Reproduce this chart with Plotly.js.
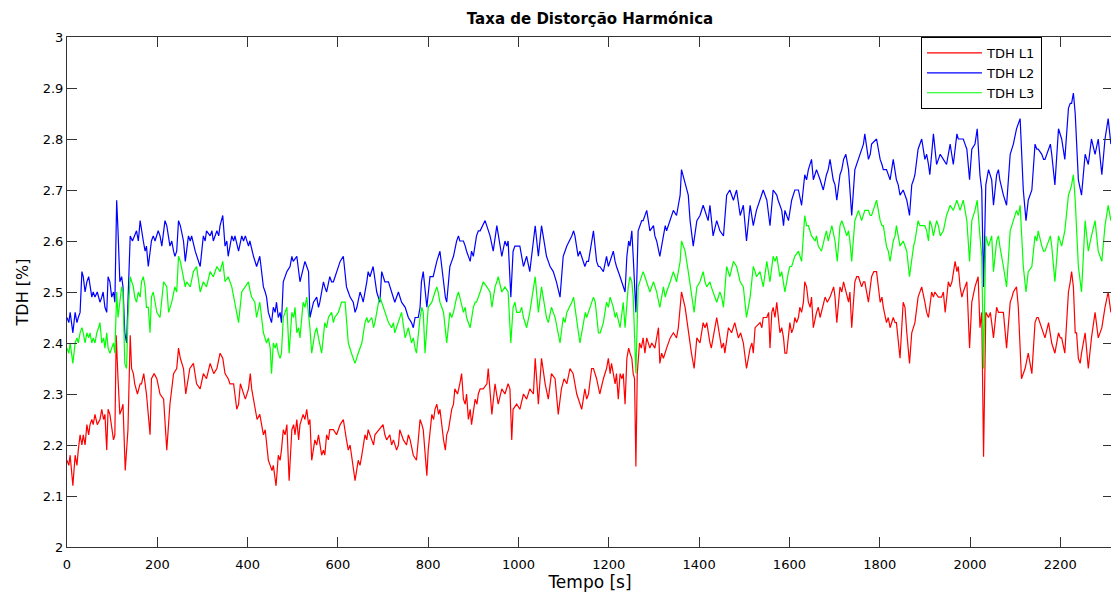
<!DOCTYPE html>
<html>
<head>
<meta charset="utf-8">
<script src="https://cdn.plot.ly/plotly-3.0.1.min.js"></script>
<style>
  html, body { margin: 0; padding: 0; overflow: hidden; background: #ffffff; }
  #chart { width: 1120px; height: 595px; }
</style>
</head>
<body>
<div id="chart"></div>
<script>
// Total harmonic distortion per phase over time

const tL1 = [0,4,7,13,18,22,25,29,33,36,40,44,48,51,55,58,62,67,73,77,81,84,88,91,95,99,103,106,109,113,117,121,124,129,135,140,143,147,150,156,162,165,170,176,180,184,187,193,199,206,214,221,228,236,243,247,251,258,263,272,280,287,295,302,309,317,325,332,339,345,350,357,361,369,376,380,384,391,395,402,
  406,409,413,416,421,427,431,435,439,442,446,450,454,457,463,468,472,475,479,483,487,492,498,502,505,509,513,516,523,527,531,535,538,542,549,553,557,564,568,571,575,579,582,590,597,605,612,619,623,627,634,638,645,649,653,660,664,667,675,679,682,690,700,704,708,715,719,723,730,734,737,741,745,752,756,760,767,774,782,786,789,797,
  800,808,812,815,819,823,826,834,838,841,845,852,856,859,865,870,874,878,882,885,889,893,896,904,908,911,915,922,930,933,941,948,955,963,970,977,981,985,988,996,1003,1011,1018,1025,1033,1037,1044,1051,1059,1066,1073,1081,1088,1095,1101,1107,1114,1121,1129,1140,1147,1151,1155,1162,1166,1173,1180,
  1188,1195,1199,1203,1206,1210,1214,1217,1221,1225,1229,1232,1236,1240,1244,1247,1251,1254,1257,1260,1263,1268,1272,1276,1280,1284,1288,1291,1295,1302,1310,1313,1317,1321,1328,1336,1343,1350,1354,1361,1369,1376,1383,1389,1395,1402,1409,1413,1417,1424,1427,1431,1439,1450,1454,1457,1465,1472,1479,1487,1492,1498,1505,1513,1517,1520,1524,1535,1539,1542,1550,1554,1557,
  1561,1564,1568,1572,1579,1583,1587,1590,1594,1601,1605,1609,1612,1616,1620,1623,1627,1631,1634,1638,1642,1646,1649,1653,1660,1664,1668,1671,1679,1684,1690,1694,1698,1701,1705,1712,1716,1720,1727,1731,1734,1738,1745,1749,1753,1760,1764,1767,1775,1782,1787,1793,1801,1805,1808,1815,1819,1823,1830,1834,1837,1845,1852,1856,1860,1866,1871,1875,1878,1885,1889,1893,1900,1904,1908,1915,1919,1922,1930,
  1937,1941,1945,1952,1956,1960,1967,1971,1974,1978,1982,1985,1993,1999,2004,2011,2015,2018,2022,2026,2030,2035,2041,2045,2048,2052,2059,2063,2066,2074,2081,2089,2093,2096,2103,2107,2114,2122,2129,2137,2144,2148,2151,2159,2163,2166,2174,2178,2181,2188,2196,2200,2203,2210,2218,2222,2225,2229,2233,2236,2240,2244,2247,2255,2262,2269,2277,2284,2292,2299,2306,2312];
const tdhL1 = [2.17,2.16,2.18,2.12,2.18,2.16,2.19,2.22,2.20,2.22,2.20,2.24,2.22,2.24,2.25,2.24,2.26,2.24,2.25,2.27,2.25,2.26,2.19,2.27,2.26,2.23,2.21,2.22,2.415,2.33,2.26,2.27,2.28,2.15,2.23,2.415,2.35,2.34,2.32,2.30,2.32,2.32,2.34,2.30,2.25,2.22,2.33,2.34,2.33,2.30,2.29,2.19,2.28,2.34,2.35,2.39,2.37,2.35,2.30,2.35,2.36,2.32,2.31,2.34,2.33,2.36,2.34,2.35,2.38,2.37,2.34,2.33,2.32,2.32,2.27,2.28,2.32,2.30,2.29,2.31,
  2.34,2.31,2.29,2.27,2.25,2.26,2.24,2.22,2.23,2.20,2.17,2.16,2.15,2.16,2.12,2.18,2.17,2.19,2.23,2.22,2.24,2.13,2.23,2.24,2.22,2.25,2.21,2.24,2.26,2.25,2.27,2.24,2.25,2.17,2.21,2.20,2.22,2.18,2.19,2.18,2.22,2.21,2.23,2.23,2.22,2.24,2.25,2.21,2.19,2.20,2.15,2.13,2.17,2.16,2.18,2.22,2.21,2.23,2.21,2.20,2.22,2.23,2.24,2.22,2.21,2.22,2.20,2.21,2.19,2.20,2.23,2.22,2.21,2.20,2.22,2.21,2.18,2.17,2.25,2.24,2.23,2.14,
  2.19,2.26,2.25,2.27,2.28,2.26,2.27,2.21,2.19,2.22,2.23,2.27,2.28,2.31,2.30,2.32,2.34,2.29,2.28,2.30,2.25,2.27,2.24,2.29,2.28,2.30,2.31,2.31,2.32,2.35,2.26,2.32,2.28,2.31,2.30,2.32,2.31,2.21,2.27,2.28,2.27,2.30,2.29,2.31,2.30,2.37,2.28,2.37,2.32,2.29,2.34,2.33,2.26,2.31,2.33,2.32,2.35,2.34,2.30,2.27,2.31,2.29,2.30,2.35,2.35,2.33,2.30,
  2.33,2.35,2.37,2.34,2.36,2.34,2.32,2.34,2.29,2.34,2.33,2.34,2.28,2.37,2.39,2.38,2.37,2.34,2.33,2.158,2.34,2.40,2.39,2.41,2.38,2.41,2.40,2.39,2.40,2.39,2.43,2.36,2.38,2.37,2.39,2.41,2.42,2.41,2.43,2.50,2.47,2.42,2.38,2.35,2.41,2.40,2.44,2.43,2.44,2.40,2.39,2.41,2.45,2.39,2.40,2.38,2.43,2.42,2.44,2.41,2.42,2.40,2.35,2.39,2.40,2.38,2.43,2.44,2.43,2.45,2.45,2.46,2.39,
  2.46,2.47,2.45,2.48,2.42,2.43,2.41,2.38,2.38,2.44,2.42,2.43,2.45,2.44,2.45,2.47,2.46,2.48,2.52,2.51,2.48,2.47,2.49,2.43,2.46,2.47,2.45,2.46,2.49,2.48,2.49,2.50,2.51,2.49,2.44,2.51,2.50,2.52,2.49,2.48,2.50,2.43,2.52,2.53,2.53,2.51,2.52,2.52,2.48,2.53,2.54,2.54,2.48,2.49,2.47,2.44,2.45,2.43,2.45,2.44,2.44,2.37,2.48,2.47,2.42,2.36,2.42,2.43,2.44,2.49,2.50,2.51,2.48,2.46,2.45,2.50,2.49,2.50,2.49,
  2.49,2.50,2.46,2.52,2.51,2.52,2.56,2.54,2.55,2.51,2.49,2.50,2.52,2.39,2.48,2.51,2.52,2.53,2.43,2.46,2.177,2.46,2.45,2.46,2.44,2.41,2.47,2.46,2.46,2.46,2.39,2.48,2.49,2.50,2.51,2.47,2.33,2.35,2.38,2.34,2.44,2.45,2.45,2.43,2.42,2.41,2.44,2.41,2.40,2.38,2.42,2.41,2.41,2.38,2.50,2.52,2.54,2.51,2.42,2.42,2.37,2.36,2.38,2.42,2.35,2.41,2.46,2.41,2.43,2.47,2.50,2.46];

const tL2 = [0,4,7,13,18,22,25,29,33,36,40,44,48,51,55,58,62,67,73,77,80,84,88,91,95,99,103,106,110,113,117,121,124,128,132,135,140,145,150,154,158,162,169,173,176,180,187,191,195,202,206,210,217,221,228,232,236,239,243,247,251,258,262,269,273,276,284,295,302,306,309,317,321,324,332,336,339,345,350,354,357,365,369,372,380,387,391,395,402,
  405,413,417,420,427,435,439,442,446,450,453,457,461,464,468,472,475,479,483,487,494,498,501,509,516,527,531,535,538,546,553,557,560,568,571,575,582,586,590,597,601,605,612,619,623,627,634,638,642,649,653,656,664,667,671,678,686,690,693,697,701,704,712,719,723,726,734,738,741,749,753,756,763,767,771,778,782,785,789,797,804,
  811,819,823,826,834,838,841,848,852,856,863,867,870,878,882,885,893,896,900,907,911,915,926,930,937,944,952,963,970,974,977,983,988,992,996,1003,1007,1011,1018,1022,1025,1037,1044,1051,1062,1066,1070,1077,1081,1084,1092,1099,1103,1107,1118,1122,1125,1132,1136,1140,1147,1151,1155,1166,1173,1177,1180,
  1188,1195,1199,1203,1206,1210,1214,1217,1225,1229,1232,1236,1240,1244,1247,1251,1254,1260,1265,1269,1273,1276,1280,1284,1291,1299,1302,1306,1313,1321,1325,1328,1336,1340,1343,1350,1358,1361,1369,1376,1380,1384,1387,1395,1402,1409,1417,1420,1424,1431,1439,1446,1454,1461,1468,1476,1483,1491,1498,1505,1513,1520,1527,1535,1542,1550,1557,1564,1572,
  1575,1579,1583,1587,1590,1594,1598,1605,1609,1612,1620,1627,1634,1638,1642,1649,1653,1657,1660,1668,1671,1675,1682,1686,1690,1697,1701,1705,1712,1716,1720,1725,1731,1738,1745,1749,1753,1760,1764,1767,1775,1779,1782,1793,1801,1805,1808,1815,1819,1823,1830,1837,1841,1845,1852,1856,1860,1866,1871,1875,1878,1885,1889,1893,1900,1904,1908,1911,1919,1926,1930,1934,
  1941,1948,1956,1963,1971,1974,1978,1985,1989,1993,1999,2004,2011,2016,2022,2026,2030,2035,2041,2045,2048,2052,2059,2063,2066,2074,2081,2089,2093,2096,2103,2107,2111,2118,2124,2129,2137,2144,2148,2151,2159,2163,2166,2174,2178,2181,2188,2196,2200,2203,2210,2218,2222,2225,2229,2233,2240,2247,2255,2262,2269,2277,2284,2292,2299,2306,2312];
const tdhL2 = [2.45,2.44,2.46,2.42,2.46,2.44,2.45,2.46,2.54,2.53,2.50,2.52,2.53,2.51,2.49,2.50,2.49,2.50,2.48,2.49,2.50,2.47,2.46,2.53,2.52,2.49,2.50,2.48,2.68,2.62,2.52,2.53,2.51,2.42,2.40,2.48,2.61,2.60,2.61,2.62,2.60,2.64,2.60,2.58,2.59,2.55,2.60,2.61,2.60,2.62,2.61,2.59,2.64,2.63,2.59,2.60,2.58,2.57,2.58,2.64,2.63,2.60,2.56,2.61,2.60,2.61,2.58,2.55,2.61,2.60,2.62,2.61,2.62,2.60,2.62,2.61,2.63,2.65,2.59,2.60,2.57,2.61,2.60,2.61,2.58,2.61,2.60,2.61,2.59,
  2.60,2.57,2.56,2.55,2.57,2.51,2.50,2.49,2.46,2.45,2.44,2.47,2.46,2.48,2.45,2.46,2.44,2.52,2.53,2.54,2.55,2.57,2.56,2.57,2.52,2.56,2.55,2.54,2.45,2.48,2.49,2.47,2.48,2.52,2.51,2.50,2.53,2.52,2.52,2.54,2.55,2.56,2.57,2.51,2.50,2.49,2.48,2.46,2.47,2.50,2.49,2.48,2.52,2.54,2.53,2.55,2.50,2.49,2.48,2.54,2.53,2.52,2.52,2.50,2.49,2.48,2.50,2.49,2.48,2.47,2.46,2.45,2.44,2.43,2.45,2.45,2.47,2.52,2.54,2.47,2.53,
  2.53,2.56,2.57,2.58,2.52,2.49,2.48,2.55,2.56,2.57,2.60,2.61,2.60,2.60,2.59,2.58,2.56,2.58,2.57,2.61,2.62,2.62,2.64,2.63,2.61,2.58,2.63,2.57,2.60,2.59,2.60,2.49,2.58,2.59,2.59,2.59,2.57,2.55,2.57,2.55,2.54,2.63,2.57,2.63,2.57,2.56,2.55,2.54,2.53,2.52,2.49,2.57,2.58,2.59,2.61,2.62,2.61,2.57,2.58,2.57,2.55,2.56,2.56,2.62,2.56,2.55,2.55,
  2.54,2.57,2.55,2.56,2.57,2.58,2.56,2.55,2.53,2.52,2.51,2.50,2.57,2.60,2.59,2.62,2.57,2.46,2.62,2.63,2.64,2.64,2.65,2.66,2.62,2.63,2.61,2.60,2.57,2.61,2.63,2.62,2.64,2.65,2.66,2.65,2.69,2.74,2.71,2.69,2.64,2.61,2.59,2.64,2.65,2.67,2.65,2.64,2.67,2.61,2.64,2.62,2.61,2.69,2.70,2.68,2.70,2.65,2.67,2.60,2.67,2.63,2.66,2.68,2.70,2.68,2.63,2.70,2.69,
  2.68,2.67,2.66,2.63,2.66,2.65,2.64,2.68,2.69,2.70,2.70,2.67,2.73,2.72,2.74,2.76,2.72,2.73,2.74,2.72,2.71,2.70,2.73,2.74,2.76,2.72,2.71,2.68,2.73,2.74,2.76,2.77,2.74,2.65,2.74,2.75,2.76,2.78,2.79,2.81,2.76,2.77,2.79,2.80,2.76,2.75,2.74,2.74,2.73,2.72,2.76,2.72,2.71,2.69,2.70,2.69,2.68,2.65,2.71,2.72,2.73,2.78,2.79,2.80,2.76,2.77,2.75,2.73,2.81,2.75,2.76,2.77,
  2.76,2.75,2.79,2.75,2.81,2.80,2.80,2.80,2.79,2.78,2.72,2.78,2.79,2.82,2.73,2.70,2.51,2.71,2.74,2.73,2.72,2.67,2.73,2.74,2.72,2.69,2.67,2.77,2.78,2.79,2.82,2.83,2.84,2.70,2.64,2.68,2.70,2.79,2.78,2.78,2.77,2.76,2.76,2.78,2.79,2.77,2.71,2.82,2.81,2.80,2.76,2.86,2.87,2.87,2.89,2.85,2.72,2.69,2.77,2.75,2.80,2.77,2.80,2.73,2.80,2.84,2.79];

const tL3 = [0,4,7,13,18,22,25,29,33,36,40,44,48,51,55,58,62,66,70,73,77,81,84,88,91,95,99,103,106,110,113,117,121,124,128,132,135,140,143,147,150,154,158,162,165,169,173,176,180,184,187,191,195,199,206,214,221,225,232,239,243,247,251,258,262,265,273,280,287,295,302,309,317,324,332,339,345,350,357,365,372,380,387,395,402,
  406,409,416,420,427,435,442,446,450,453,457,461,464,468,472,475,479,483,487,492,498,502,505,509,513,516,523,527,531,538,542,549,553,557,564,571,575,579,586,590,593,601,605,608,616,623,630,634,638,645,649,653,660,664,667,675,679,682,690,693,697,704,708,712,719,723,726,734,738,741,749,753,756,763,767,771,774,782,786,789,793,800,
  808,815,819,822,826,830,834,841,848,852,856,863,867,870,878,882,885,893,900,904,907,915,919,922,930,937,941,948,952,955,963,970,977,983,988,992,996,1003,1007,1011,1018,1025,1037,1044,1051,1059,1062,1066,1073,1077,1081,1092,1099,1103,1107,1118,1122,1125,1136,1144,1148,1151,1162,1166,1170,1177,1181,
  1188,1195,1199,1203,1210,1214,1217,1225,1232,1236,1243,1247,1251,1254,1260,1265,1269,1273,1276,1280,1284,1291,1299,1302,1306,1313,1321,1325,1328,1336,1340,1343,1350,1358,1361,1369,1376,1383,1389,1395,1402,1409,1413,1417,1424,1427,1431,1439,1446,1450,1454,1461,1468,1476,1483,1491,1498,1505,1513,1520,1524,1527,1535,1539,1542,1550,1557,1564,1568,1572,
  1575,1579,1583,1587,1590,1598,1601,1605,1612,1620,1627,1634,1638,1642,1649,1657,1660,1664,1671,1679,1682,1686,1694,1701,1706,1712,1716,1720,1727,1731,1734,1738,1745,1749,1753,1760,1764,1767,1775,1779,1782,1793,1801,1805,1808,1815,1819,1823,1830,1834,1837,1845,1852,1856,1860,1866,1871,1875,1878,1885,1889,1893,1900,1904,1908,1911,1915,1919,1926,1930,1934,
  1941,1948,1956,1963,1971,1974,1978,1985,1993,1999,2004,2011,2016,2022,2026,2030,2035,2041,2045,2048,2052,2059,2063,2066,2074,2081,2089,2093,2096,2103,2107,2111,2118,2124,2129,2137,2144,2148,2151,2159,2163,2166,2174,2178,2181,2188,2196,2200,2203,2210,2218,2222,2225,2229,2233,2240,2247,2255,2262,2269,2277,2284,2292,2299,2306,2312];
const tdhL3 = [2.39,2.38,2.40,2.36,2.40,2.41,2.40,2.42,2.43,2.42,2.40,2.42,2.41,2.42,2.40,2.41,2.40,2.42,2.43,2.44,2.40,2.41,2.39,2.42,2.39,2.38,2.39,2.40,2.38,2.50,2.45,2.48,2.51,2.50,2.36,2.35,2.45,2.53,2.52,2.51,2.49,2.48,2.50,2.49,2.52,2.53,2.51,2.47,2.47,2.42,2.49,2.50,2.48,2.46,2.45,2.52,2.51,2.46,2.48,2.51,2.50,2.57,2.56,2.53,2.51,2.52,2.51,2.54,2.55,2.50,2.52,2.51,2.54,2.53,2.55,2.54,2.56,2.52,2.53,2.51,2.48,2.44,2.50,2.51,2.52,
  2.50,2.49,2.48,2.45,2.48,2.42,2.40,2.41,2.39,2.34,2.40,2.39,2.40,2.38,2.37,2.38,2.45,2.46,2.47,2.38,2.46,2.45,2.47,2.42,2.43,2.41,2.48,2.47,2.49,2.43,2.38,2.42,2.43,2.41,2.38,2.44,2.43,2.45,2.46,2.44,2.45,2.46,2.47,2.48,2.48,2.40,2.38,2.37,2.36,2.38,2.39,2.40,2.44,2.45,2.44,2.45,2.43,2.44,2.48,2.49,2.48,2.46,2.45,2.44,2.43,2.44,2.42,2.44,2.45,2.46,2.41,2.42,2.43,2.40,2.41,2.39,2.38,2.45,2.47,2.46,2.38,2.47,
  2.48,2.50,2.51,2.50,2.48,2.47,2.46,2.40,2.46,2.45,2.46,2.49,2.50,2.49,2.46,2.47,2.45,2.43,2.47,2.48,2.48,2.50,2.51,2.52,2.51,2.50,2.47,2.51,2.52,2.53,2.50,2.51,2.50,2.40,2.47,2.48,2.46,2.46,2.47,2.45,2.43,2.46,2.53,2.46,2.51,2.46,2.45,2.44,2.47,2.46,2.45,2.40,2.45,2.44,2.46,2.48,2.49,2.47,2.40,2.44,2.46,2.45,2.48,2.49,2.48,2.42,2.42,
  2.44,2.48,2.47,2.49,2.47,2.45,2.46,2.43,2.48,2.43,2.51,2.53,2.52,2.49,2.34,2.51,2.52,2.53,2.54,2.53,2.52,2.50,2.52,2.51,2.50,2.47,2.51,2.49,2.50,2.52,2.53,2.54,2.52,2.56,2.60,2.58,2.54,2.50,2.46,2.51,2.52,2.54,2.52,2.51,2.52,2.51,2.50,2.48,2.50,2.49,2.47,2.55,2.53,2.56,2.55,2.52,2.51,2.45,2.49,2.55,2.54,2.53,2.54,2.52,2.51,2.56,2.52,2.57,2.56,2.57,
  2.55,2.53,2.54,2.52,2.50,2.54,2.55,2.55,2.57,2.58,2.56,2.65,2.63,2.63,2.61,2.60,2.61,2.59,2.58,2.61,2.62,2.60,2.63,2.60,2.56,2.63,2.64,2.63,2.61,2.62,2.60,2.56,2.64,2.65,2.66,2.64,2.65,2.66,2.66,2.65,2.65,2.68,2.64,2.63,2.63,2.59,2.58,2.56,2.60,2.61,2.63,2.59,2.60,2.59,2.58,2.53,2.57,2.59,2.60,2.64,2.63,2.63,2.63,2.62,2.60,2.64,2.63,2.61,2.64,2.63,2.61,
  2.62,2.65,2.67,2.66,2.68,2.67,2.66,2.68,2.64,2.56,2.64,2.66,2.68,2.61,2.57,2.35,2.61,2.59,2.60,2.61,2.54,2.60,2.61,2.59,2.55,2.51,2.62,2.63,2.64,2.66,2.65,2.67,2.55,2.50,2.54,2.55,2.61,2.60,2.62,2.59,2.58,2.58,2.60,2.61,2.59,2.52,2.61,2.60,2.59,2.62,2.69,2.70,2.71,2.73,2.68,2.55,2.50,2.64,2.58,2.61,2.64,2.58,2.56,2.63,2.67,2.64];

const seriesNames = ['TDH L1', 'TDH L2', 'TDH L3'];
const seriesColors = ['#ff0000', '#0000ff', '#00ff00'];

const xTickVals = [0, 200, 400, 600, 800, 1000, 1200, 1400, 1600, 1800, 2000, 2200];
const yTickVals = [2, 2.1, 2.2, 2.3, 2.4, 2.5, 2.6, 2.7, 2.8, 2.9, 3];
const yTickText = ['2', '2.1', '2.2', '2.3', '2.4', '2.5', '2.6', '2.7', '2.8', '2.9', '3'];

const times = [tL1, tL2, tL3];
const values = [tdhL1, tdhL2, tdhL3];

const traces = seriesNames.map((name, i) => ({
  type: 'scatter',
  mode: 'lines',
  name: name,
  x: times[i],
  y: values[i],
  line: { color: seriesColors[i], width: 1.2 }
}));

const axisColor = '#333333';
const baseFont = 'DejaVu Sans, sans-serif';

const layout = {
  width: 1120,
  height: 595,
  margin: { l: 67, r: 7, t: 37, b: 48 },
  paper_bgcolor: '#ffffff',
  plot_bgcolor: '#ffffff',
  font: { family: baseFont, size: 13, color: '#000000' },
  title: {
    text: '<b>Taxa de Distorção Harmónica</b>',
    x: 0.5, xref: 'paper', xanchor: 'center',
    y: 0.969, yref: 'container', yanchor: 'middle',
    font: { family: baseFont, size: 15, color: '#000000' }
  },
  xaxis: {
    range: [0, 2316.7],
    tickvals: xTickVals,
    ticks: 'inside', ticklen: 10, tickwidth: 1, tickcolor: axisColor,
    showline: true, linecolor: axisColor, linewidth: 1, mirror: 'ticks',
    showgrid: false, zeroline: false,
    ticklabelstandoff: 5,
    tickfont: { family: baseFont, size: 13, color: '#000000' },
    title: { text: 'Tempo [s]', standoff: 4, font: { family: baseFont, size: 17, color: '#000000' } }
  },
  yaxis: {
    range: [2, 3],
    tickvals: yTickVals, ticktext: yTickText,
    ticks: 'inside', ticklen: 10, tickwidth: 1, tickcolor: axisColor,
    showline: true, linecolor: axisColor, linewidth: 1, mirror: 'ticks',
    showgrid: false, zeroline: false,
    tickfont: { family: baseFont, size: 13, color: '#000000' },
    title: { text: 'TDH [%]', standoff: 10, font: { family: baseFont, size: 16, color: '#000000' } }
  },
  showlegend: true,
  legend: {
    x: 0.8164, y: 1, xanchor: 'left', yanchor: 'top',
    bgcolor: '#ffffff', bordercolor: '#000000', borderwidth: 1,
    font: { family: baseFont, size: 13, color: '#000000' },
    itemwidth: 55,
    tracegroupgap: 0
  }
};

Plotly.newPlot('chart', traces, layout, { displayModeBar: false, staticPlot: true });
</script>
</body>
</html>
